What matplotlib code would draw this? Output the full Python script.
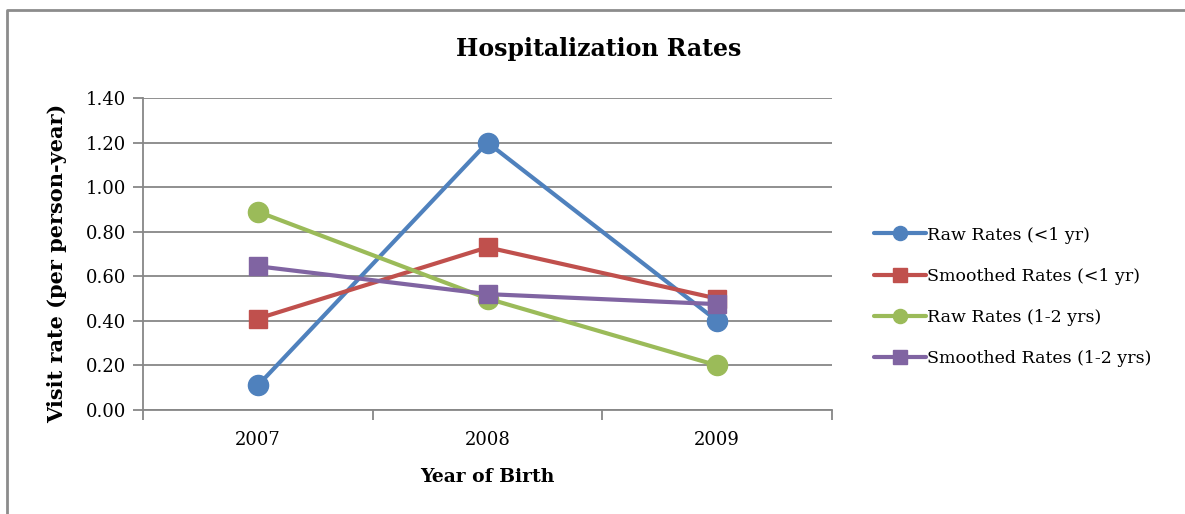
import matplotlib
matplotlib.use('Agg')
import matplotlib.pyplot as plt
from matplotlib.lines import Line2D

# ---- data ----
years = ['2007', '2008', '2009']
raw_lt1 = [0.11, 1.20, 0.40]
smooth_lt1 = [0.41, 0.73, 0.50]
raw_1to2 = [0.89, 0.50, 0.20]
smooth_1to2 = [0.645, 0.52, 0.475]

series = [
    ('Raw Rates (<1 yr)', raw_lt1, '#4F81BD', 'o'),
    ('Smoothed Rates (<1 yr)', smooth_lt1, '#C0504D', 's'),
    ('Raw Rates (1-2 yrs)', raw_1to2, '#9BBB59', 'o'),
    ('Smoothed Rates (1-2 yrs)', smooth_1to2, '#8064A2', 's'),
]

plt.rcParams['font.family'] = ['DejaVu Serif']
GRID = '#878787'

fig = plt.figure(figsize=(11.85, 5.14), dpi=100)
ax = fig.add_axes([143 / 1185, 1 - 410 / 514, (832 - 143) / 1185, (410 - 98) / 514])

x = list(range(len(years)))
for label, vals, color, mk in series:
    ax.plot(x, vals, color=color, lw=3, marker=mk, ms=14.5 if mk == 'o' else 13.5,
            label=label, solid_capstyle='round')

ax.set_xlim(-0.5, len(years) - 0.5)
ax.set_ylim(0, 1.4)
ax.set_yticks([i * 0.2 for i in range(8)])
ax.set_yticklabels([f'{i * 0.2:.2f}' for i in range(8)], fontsize=13)
ax.set_xticks(x)
ax.set_xticklabels(years, fontsize=13)
ax.tick_params(axis='x', length=0, pad=15)
ax.set_xticks([-0.5, 0.5, 1.5, 2.5], minor=True)
ax.tick_params(axis='x', which='minor', length=7, color=GRID, width=1.3, direction='out')
ax.tick_params(axis='y', length=7, color=GRID, width=1.3, direction='out', pad=5)
ax.yaxis.grid(True, color=GRID, lw=1.3)
ax.set_axisbelow(True)
for s in ['top', 'right']:
    ax.spines[s].set_visible(False)
for s in ['left', 'bottom']:
    ax.spines[s].set_color(GRID)
    ax.spines[s].set_linewidth(1.3)

fig.text(599 / 1185, 1 - 49 / 514, 'Hospitalization Rates', fontsize=17, fontweight='bold',
         ha='center', va='center')
ax.set_xlabel('Year of Birth', fontsize=13.5, fontweight='bold', labelpad=14)
ax.set_ylabel('Visit rate (per person-year)', fontsize=15, fontweight='bold')
ax.yaxis.set_label_coords(-0.11, 0.47)

handles, labels = ax.get_legend_handles_labels()
fig.legend(handles, labels, loc='center left', bbox_to_anchor=(858 / 1185, 1 - 297 / 514),
           frameon=False, fontsize=12.5, handlelength=3.0, handletextpad=0.1,
           labelspacing=1.4, markerscale=0.7)

# chart border (left and top edges visible)
fig.add_artist(Line2D([7 / 1185, 7 / 1185, 1.0], [0.0, 1 - 10 / 514, 1 - 10 / 514],
                      transform=fig.transFigure, color='#8C8C8C', lw=2))

fig.savefig('out.png', dpi=100)
